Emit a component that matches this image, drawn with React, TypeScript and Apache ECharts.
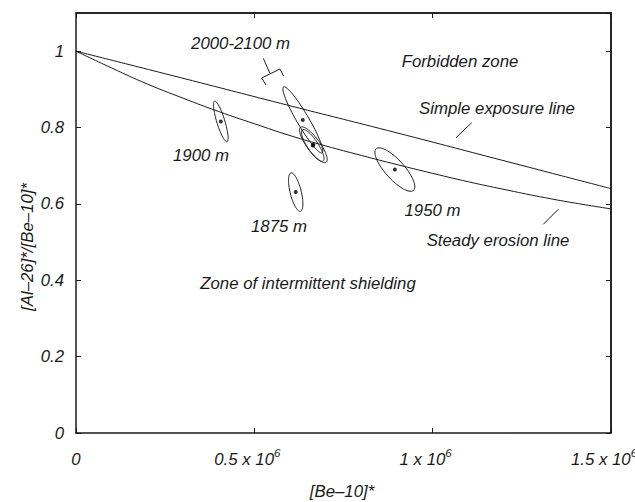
import React, { useEffect, useRef } from "react";
import * as echarts from "echarts";

// Simple exposure line ([Be-10]*, [Al-26]*/[Be-10]*)
const simpleExposureBe = [0, 300000, 600000, 900000, 1200000, 1500000];
const simpleExposureRatio = [1, 0.929, 0.857, 0.786, 0.713, 0.64];

// Steady erosion line
const steadyErosionBe = [0, 100000, 200000, 300000, 400000, 500000, 600000, 700000, 800000, 900000, 1000000, 1100000, 1200000, 1300000, 1400000, 1500000];
const steadyErosionRatio = [1, 0.956, 0.914, 0.877, 0.842, 0.81, 0.779, 0.752, 0.727, 0.703, 0.68, 0.658, 0.638, 0.619, 0.602, 0.587];

// Samples (ellipse centres)
const sampleNames = ["1900 m", "1875 m", "2000-2100 m (a)", "2000-2100 m (b)", "2000-2100 m (c)", "1950 m"];
const sampleBe = [406000, 616000, 636000, 665500, 663800, 894000];
const sampleRatio = [0.816, 0.631, 0.82, 0.755, 0.753, 0.69];
// Major semi-axis of each uncertainty ellipse (data units) and minor/major ratio
const ellipseMajorBe = [17400, 13300, 54100, 35900, 28900, 52400];
const ellipseMajorRatio = [-0.0531, -0.0503, -0.0863, -0.0458, -0.041, -0.0544];
const ellipseShape = [0.19, 0.28, 0.157, 0.3, 0.29, 0.34];

const xTickValues = [0, 500000, 1000000, 1500000];
const xTickMantissa = ["0", "0.5", "1", "1.5"];
const yTickValues = [0, 0.2, 0.4, 0.6, 0.8, 1];
const yTickLabels = ["0", "0.2", "0.4", "0.6", "0.8", "1"];
const xMax = 1500000;
const yMax = 1.1;

const FONT = "'Liberation Sans', Arial, Helvetica, sans-serif";
const INK = "#1a1a1a";
const FS = 16.8;

export default function App() {
  const ref = useRef<HTMLDivElement>(null);
  useEffect(() => {
    if (!ref.current) return;
    const chart = echarts.init(ref.current, undefined, { renderer: "svg" });

    const ellipseData = sampleBe.map((x, i) => [x, sampleRatio[i], ellipseMajorBe[i], ellipseMajorRatio[i], ellipseShape[i]]);

    const mkLine = () => ({ show: true, onZero: false, lineStyle: { color: INK, width: 1.5 } });
    const mkTick = () => ({ show: true, inside: true, length: 5, lineStyle: { color: INK, width: 1 } });

    const txt = (text: string, x: number, y: number, extra: any = {}) => ({
      type: "text",
      x,
      y,
      silent: true,
      style: {
        text,
        fontFamily: FONT,
        fontStyle: "italic",
        fontSize: FS,
        fill: INK,
        align: "center",
        verticalAlign: "middle",
      },
      ...extra,
    });
    const seg = (x1: number, y1: number, x2: number, y2: number) => ({
      type: "line",
      silent: true,
      shape: { x1, y1, x2, y2 },
      style: { stroke: INK, lineWidth: 1 },
    });

    const annotations: any[] = [
      txt("[Be\u201310]*", 342, 491),
      txt("[Al\u201326]*/[Be\u201310]*", 27, 247, { rotation: Math.PI / 2 }),
      txt("2000-2100 m", 240.5, 43.5),
      txt("Forbidden zone", 460, 61),
      txt("Simple exposure line", 497, 108.5),
      txt("Steady erosion line", 498, 240.5),
      txt("1950 m", 432.5, 210.5),
      txt("1900 m", 201, 155),
      txt("1875 m", 279, 226),
      txt("Zone of intermittent shielding", 308, 283.5),
      seg(471.7, 122.7, 456, 137.7),
      seg(558.3, 209.3, 543.3, 224.3),
      seg(263.3, 58.3, 269.8, 73),
      {
        type: "polyline",
        silent: true,
        shape: { points: [[266, 85], [261.7, 78], [280, 69], [283.5, 76]] },
        style: { stroke: INK, lineWidth: 1, fill: "none" },
      },
    ];

    chart.setOption({
      animation: false,
      backgroundColor: "#ffffff",
      grid: { left: 76, right: 24, top: 13, bottom: 69, outerBoundsMode: "none" },
      xAxis: [
        {
          type: "value",
          position: "bottom",
          min: 0,
          max: xMax,
          interval: 500000,
          axisLine: mkLine(),
          axisTick: mkTick(),
          splitLine: { show: false },
          axisLabel: {
            margin: 14,
            formatter: (v: number) => {
              const i = xTickValues.findIndex((t) => Math.abs(t - v) < 1);
              if (i < 0) return "";
              if (i === 0) return "{b|0}";
              return `{b|${xTickMantissa[i]} x 10}{s|6}`;
            },
            rich: {
              b: { fontFamily: FONT, fontStyle: "italic", fontSize: FS, color: INK, lineHeight: 21, verticalAlign: "bottom" },
              s: { fontFamily: FONT, fontStyle: "italic", fontSize: 11.5, color: INK, verticalAlign: "top", padding: [0, 14, 0, 0] },
            },
          },
        },
        {
          type: "value",
          position: "top",
          min: 0,
          max: xMax,
          interval: 500000,
          axisLine: mkLine(),
          axisTick: mkTick(),
          axisLabel: { show: false },
          splitLine: { show: false },
        },
      ],
      yAxis: [
        {
          type: "value",
          position: "left",
          min: 0,
          max: yMax,
          interval: 0.2,
          axisLine: mkLine(),
          axisTick: mkTick(),
          splitLine: { show: false },
          axisLabel: {
            margin: 12,
            fontFamily: FONT,
            fontStyle: "italic",
            fontSize: FS,
            color: INK,
            showMaxLabel: false,
            formatter: (v: number) => {
              const i = yTickValues.findIndex((t) => Math.abs(t - v) < 1e-6);
              return i < 0 ? "" : yTickLabels[i];
            },
          },
        },
        {
          type: "value",
          position: "right",
          min: 0,
          max: yMax,
          interval: 0.2,
          axisLine: mkLine(),
          axisTick: mkTick(),
          axisLabel: { show: false },
          splitLine: { show: false },
        },
      ],
      series: [
        {
          name: "Simple exposure line",
          type: "line",
          data: simpleExposureBe.map((x, i) => [x, simpleExposureRatio[i]]),
          showSymbol: false,
          smooth: true,
          lineStyle: { color: INK, width: 1 },
          silent: true,
        },
        {
          name: "Steady erosion line",
          type: "line",
          data: steadyErosionBe.map((x, i) => [x, steadyErosionRatio[i]]),
          showSymbol: false,
          smooth: true,
          lineStyle: { color: INK, width: 1 },
          silent: true,
        },
        {
          name: "Uncertainty ellipses",
          type: "custom",
          coordinateSystem: "cartesian2d",
          encode: { x: 0, y: 1 },
          data: ellipseData,
          silent: true,
          renderItem: (_p: any, api: any) => {
            const cx = api.value(0);
            const cy = api.value(1);
            const ux = api.value(2);
            const uy = api.value(3);
            const r = api.value(4);
            const c = api.coord([cx, cy]);
            const e = api.coord([cx + ux, cy + uy]);
            const px = e[0] - c[0];
            const py = e[1] - c[1];
            const vx = -py * r;
            const vy = px * r;
            const pts: number[][] = [];
            const n = 90;
            for (let k = 0; k < n; k++) {
              const t = (k / n) * Math.PI * 2;
              pts.push([c[0] + Math.cos(t) * px + Math.sin(t) * vx, c[1] + Math.cos(t) * py + Math.sin(t) * vy]);
            }
            return {
              type: "polygon",
              shape: { points: pts },
              style: { fill: "none", stroke: INK, lineWidth: 1 },
            };
          },
        },
        {
          name: "Samples",
          type: "scatter",
          data: sampleBe.map((x, i) => ({ name: sampleNames[i], value: [x, sampleRatio[i]] })),
          symbol: "circle",
          symbolSize: 4,
          itemStyle: { color: "#000" },
          silent: true,
        },
      ],
      graphic: annotations,
    });

    // Frame of the plot area, placed from the axes' own scales
    const p0 = chart.convertToPixel({ xAxisIndex: 0, yAxisIndex: 0 } as any, [0, 0]) as number[];
    const p1 = chart.convertToPixel({ xAxisIndex: 0, yAxisIndex: 0 } as any, [xMax, yMax]) as number[];
    if (p0 && p1 && isFinite(p0[0]) && isFinite(p1[1])) {
      chart.setOption({
        graphic: [
          ...annotations,
          {
            type: "polyline",
            silent: true,
            z: 10,
            shape: { points: [[p0[0], p1[1]], [p1[0], p1[1]], [p1[0], p0[1]]] },
            style: { stroke: INK, lineWidth: 1.5, fill: "none" },
          },
        ],
      });
    }
    return () => chart.dispose();
  }, []);
  return <div ref={ref} style={{ position: "absolute", left: 0, top: 0, width: 635, height: 502 }} />;
}
